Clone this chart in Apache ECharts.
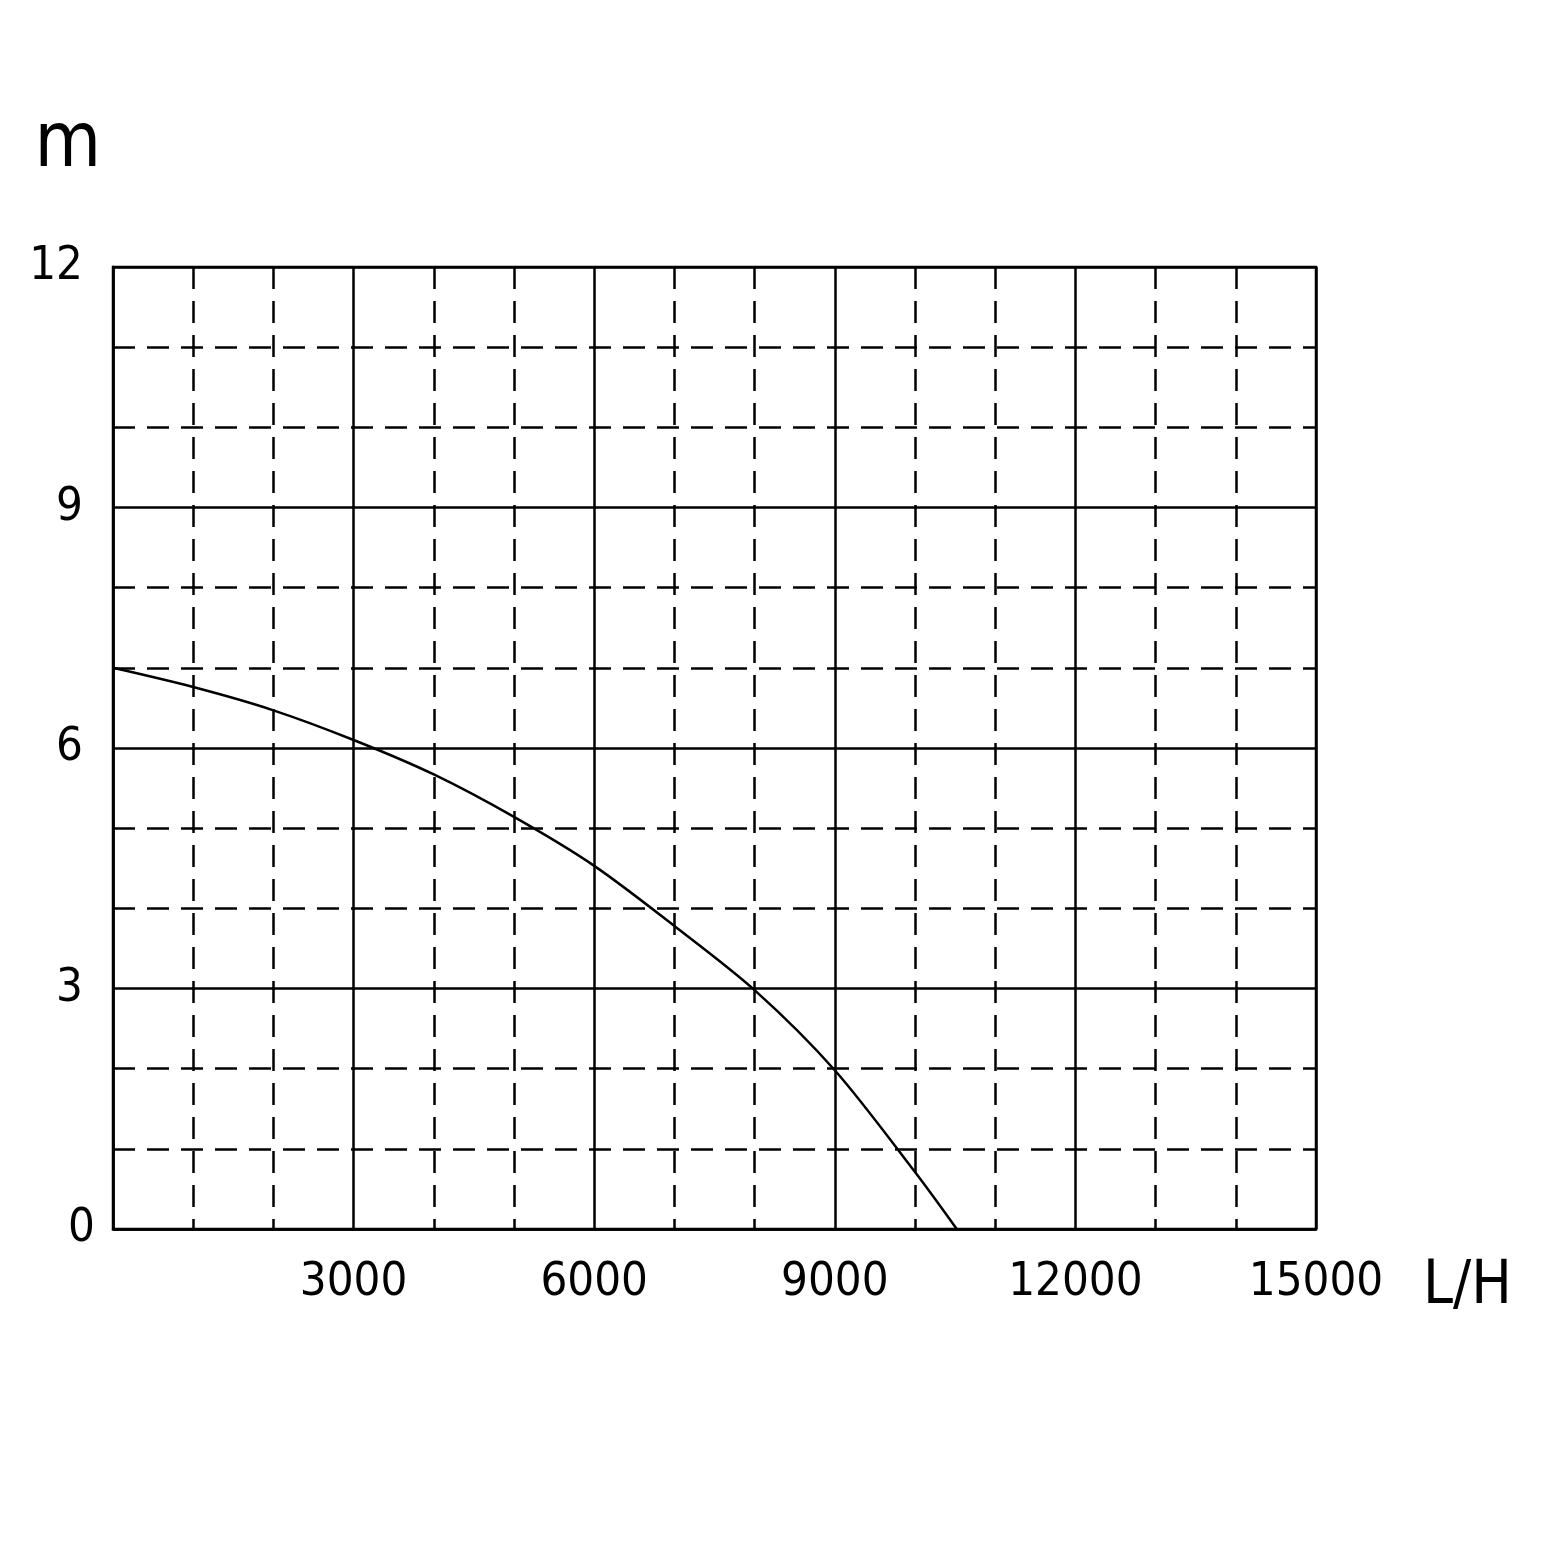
<!DOCTYPE html>
<html><head><meta charset="utf-8">
<script src="https://cdn.jsdelivr.net/npm/echarts@6/dist/echarts.min.js"></script>
<style>html,body{margin:0;padding:0;background:#fff}#c{width:1560px;height:1560px}</style>
</head><body><div id="c"></div>
<script>
var flowLH = [0, 1000, 2000, 3000, 4000, 5000, 6000, 7000, 8000, 9000, 10000, 10520];
var headM  = [7.0, 6.76, 6.47, 6.1, 5.67, 5.14, 4.53, 3.78, 2.98, 1.98, 0.71, 0];
var xTicks = [3000, 6000, 9000, 12000, 15000];
var yTicks = [0, 3, 6, 9, 12];
var xName = 'L/H', yName = 'm';

var FONT = '"Liberation Sans Narrow", "DejaVu Sans Condensed", "Noto Sans", sans-serif';
var LW = 2.5;
var pts = flowLH.map(function (x, i) { return [x, headM[i]]; });
var chart = echarts.init(document.getElementById('c'), null, {renderer: 'canvas'});
chart.setOption({
  backgroundColor: '#fff',
  animation: false,
  grid: {left: 113, top: 267, right: 244, bottom: 331, show: true, borderColor: '#000', borderWidth: LW, backgroundColor: 'transparent'},
  xAxis: {
    type: 'value', min: 0, max: 15000, interval: 3000,
    name: xName, nameLocation: 'end', nameGap: 107,
    nameTextStyle: {fontFamily: FONT, fontSize: 60, color: '#000', verticalAlign: 'top', align: 'left', padding: [28, 0, 0, 0]},
    axisLine: {show: true, lineStyle: {color: '#000', width: LW}},
    axisTick: {show: false},
    axisLabel: {fontFamily: FONT, fontSize: 47, color: '#000', margin: 30,
      formatter: function (v) { return xTicks.indexOf(v) >= 0 ? String(v) : ''; }},
    splitLine: {show: true, lineStyle: {color: '#000', width: LW}},
    minorTick: {show: false, splitNumber: 3},
    minorSplitLine: {show: true, lineStyle: {color: '#000', width: LW, type: [22, 12]}}
  },
  yAxis: {
    type: 'value', min: 0, max: 12, interval: 3,
    name: yName, nameLocation: 'end', nameGap: 83,
    nameTextStyle: {fontFamily: FONT, fontSize: 76, color: '#000', align: 'right', padding: [0, 12, 0, 0]},
    axisLine: {show: true, lineStyle: {color: '#000', width: LW}},
    axisTick: {show: false},
    axisLabel: {fontFamily: FONT, fontSize: 47, color: '#000', margin: 30,
      formatter: function (v) { return yTicks.indexOf(v) >= 0 ? (v === 0 ? '{z|0}' : String(v)) : ''; },
      rich: {z: {fontFamily: FONT, fontSize: 47, color: '#000', padding: [0, -12, 0, 0]}}},
    splitLine: {show: true, lineStyle: {color: '#000', width: LW}},
    minorTick: {show: false, splitNumber: 3},
    minorSplitLine: {show: true, lineStyle: {color: '#000', width: LW, type: [22, 12]}}
  },
  series: [{
    type: 'line', data: pts, smooth: 0.3, symbol: 'none',
    lineStyle: {color: '#000', width: LW}
  }]
});
</script></body></html>
